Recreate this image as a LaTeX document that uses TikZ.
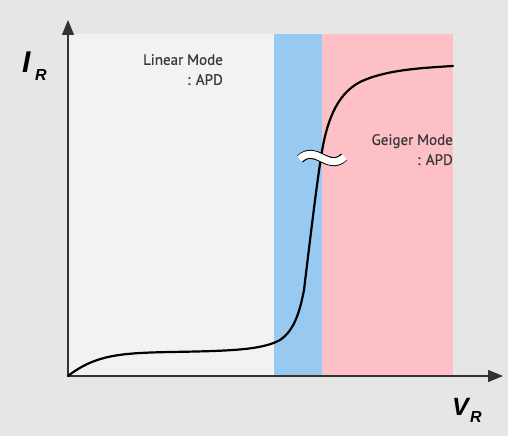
\documentclass[tikz,border=0pt]{standalone}
\usepackage{fontspec}
\setmainfont{PT Sans}
\newfontfamily\modefont{PT Sans}[FakeBold=0.7]
\newfontfamily\axisfont{Liberation Sans}
\usetikzlibrary{arrows.meta}
\definecolor{bggray}{HTML}{E6E6E6}
\definecolor{panelgray}{HTML}{F2F2F2}
\definecolor{zoneblue}{HTML}{98C9F0}
\definecolor{zonepink}{HTML}{FEC0C7}
\definecolor{labeltext}{HTML}{383838}
\tikzset{
  axisline/.style={draw=black!80, line width=1.4pt, -{Triangle[length=15pt,width=12pt]}},
  modelabel/.style={text=labeltext, font=\modefont\fontsize{15}{20}\selectfont, align=right, inner sep=0pt},
  axislabel/.style={font=\axisfont\bfseries\itshape, anchor=base west, inner sep=0pt},
  breakline/.style={line width=#1, line cap=butt},
}
\begin{document}
\begin{tikzpicture}[x=1pt,y=-1pt]
  \useasboundingbox (0,0) rectangle (508,436);
  \fill[bggray] (0,0) rectangle (508,436);
  % operating regions
  \fill[panelgray] (68,34) rectangle (274,376);
  \fill[zoneblue] (274,34) rectangle (322,376);
  \fill[zonepink] (322,34) rectangle (453,376);
  % axes
  \coordinate (origin) at (68,376);
  \coordinate (ytip) at (68,20);
  \coordinate (xtip) at (503,376);
  \draw[axisline] (origin) -- (ytip);
  \draw[axisline] (origin) -- (xtip);
  % axis labels
  \node[axislabel] (ilabel) at (22,72) {\fontsize{30}{30}\selectfont I};
  \node[axislabel] (isub) at (35,80) {\fontsize{16}{16}\selectfont R};
  \node[axislabel] (vlabel) at (452,415) {\fontsize{25}{25}\selectfont V};
  \node[axislabel] (vsub) at (470,422) {\fontsize{16}{16}\selectfont R};
  % mode labels
  \node[modelabel, anchor=north east] (linear) at (223,54) {Linear Mode\\: APD};
  \node[modelabel, anchor=north east] (geiger) at (453,134) {Geiger Mode\\: APD};
  % I-V characteristic
  \draw[line width=2.2pt, black, line cap=round]
    (origin) .. controls (95,355) and (120,353) .. (170,352)
    .. controls (230,351) and (262,350) .. (280,340)
    .. controls (295,330) and (300,310) .. (304,290)
    .. controls (310,240) and (316,190) .. (321,157)
    .. controls (326,125) and (335,95) .. (360,82)
    .. controls (385,70) and (420,68) .. (453,66);
  % break mark across the curve
  \coordinate (brk) at (322,158);
  \foreach \w/\c/\e in {9pt/black/0pt, 7pt/white/0.6pt}
    \draw[breakline=\w, \c]
      ([xshift=-22pt-\e, yshift=-1pt]brk)
      .. controls ([xshift=-14pt,yshift=7pt]brk) and ([xshift=-6pt,yshift=3pt]brk) .. (brk)
      .. controls ([xshift=6pt,yshift=-3pt]brk) and ([xshift=14pt,yshift=-7pt]brk) .. ([xshift=22pt+\e, yshift=1pt]brk);
\end{tikzpicture}
\end{document}
